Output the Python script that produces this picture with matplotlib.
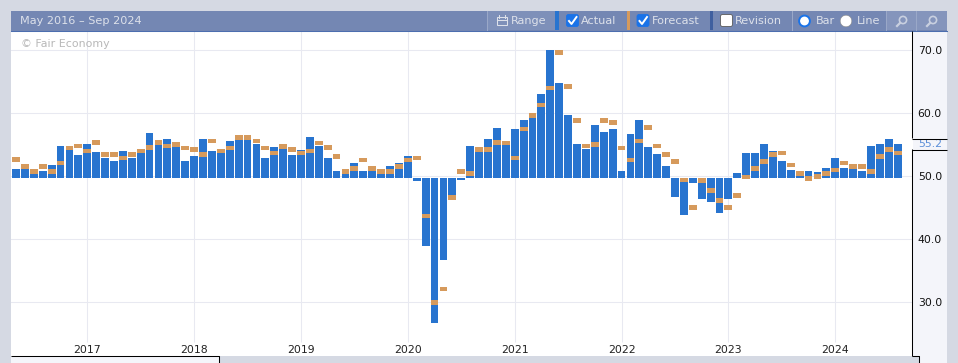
#!/usr/bin/env python

import matplotlib
matplotlib.use('Agg')
import numpy as np
import matplotlib.pyplot as plt
from matplotlib.patches import Rectangle, Circle, FancyBboxPatch

# monthly values, first bar is May 2016
actual = [51.2, 51.3, 50.5, 50.8, 51.8, 54.8, 54.2, 53.4, 55.1, 53.9,
          52.9, 52.4, 54.0, 52.9, 53.7, 56.9, 55.1, 55.9, 54.7, 52.4,
          53.2, 55.9, 54.0, 53.7, 55.6, 55.8, 55.8, 55.1, 52.9, 54.7,
          54.3, 53.4, 54.2, 56.2, 54.8, 52.9, 50.8, 50.4, 52.1, 50.8,
          50.8, 50.4, 51.6, 52.1, 53.2, 49.3, 39.0, 26.7, 36.7, 46.9,
          49.4, 54.8, 53.9, 55.9, 57.7, 55.0, 57.5, 58.9, 59.4, 63.1,
          70.0, 64.8, 59.7, 55.1, 54.3, 58.1, 57.0, 57.5, 50.8, 56.7,
          58.9, 54.7, 53.5, 51.6, 46.7, 43.8, 48.9, 46.4, 45.9, 44.2,
          46.4, 50.5, 53.7, 53.7, 55.1, 54.0, 52.4, 51.0, 50.1, 50.8,
          50.7, 51.3, 52.9, 51.3, 51.3, 50.8, 54.8, 55.1, 55.9, 55.2]
forecast = [52.7, 51.6, 50.8, 51.5, 50.7, 52.1, 54.5, 54.8, 54.0, 55.4,
            53.5, 53.4, 52.9, 53.5, 54.0, 54.6, 55.4, 54.8, 55.1, 54.5,
            54.2, 53.4, 55.6, 54.0, 54.5, 56.1, 56.1, 55.6, 54.5, 53.7,
            54.7, 54.3, 53.7, 54.0, 55.3, 54.6, 53.2, 50.7, 51.3, 52.6,
            51.2, 50.7, 50.8, 51.6, 52.6, 52.9, 43.7, 30.0, 32.1, 46.6,
            50.7, 50.5, 54.2, 54.3, 55.4, 55.3, 52.9, 57.5, 59.7, 61.3,
            64.0, 69.7, 64.3, 58.8, 54.8, 55.0, 58.8, 58.6, 54.5, 52.6,
            55.6, 57.7, 54.8, 53.5, 52.3, 49.4, 45.1, 49.3, 47.7, 46.1,
            45.0, 46.9, 49.9, 51.2, 52.3, 53.5, 53.7, 51.8, 50.4, 49.6,
            50.0, 50.4, 51.0, 52.1, 51.6, 51.6, 50.8, 53.1, 54.3, 53.7]
year_pos = [8, 20, 32, 44, 56, 68, 80, 92]
year_labels = ['2017', '2018', '2019', '2020', '2021', '2022', '2023', '2024']
y_ticks = [30, 40, 50, 60, 70]

BLUE = '#2874CF'
ORANGE = '#D69A5C'
GRID = '#E8E9F1'
PAGE = '#D5D9E3'
PANEL = '#F4F5FA'
HEAD = '#7487B3'
HEAD_TEXT = '#DDE1EA'
BASE = 49.8

plt.rcParams['font.family'] = 'DejaVu Sans'
W, H = 958, 363
fig = plt.figure(figsize=(W / 100, H / 100), dpi=100, facecolor=PAGE)

# page furniture underneath the plot
bg = fig.add_axes([0, 0, 1, 1], zorder=0)
bg.set_xlim(0, W)
bg.set_ylim(H, 0)
bg.axis('off')
bg.add_patch(Rectangle((913, 31), 34, 325, fc=PANEL, ec='none'))
bg.add_patch(Rectangle((920, 356), 27, 7, fc=PANEL, ec='none'))
bg.add_patch(Rectangle((11, 356), 208, 7, fc=PANEL, ec='none'))

# main plot
ax = fig.add_axes([11 / W, 1 - 356 / H, 902 / W, 325 / H], zorder=1)
ax.set_facecolor('white')
ax.set_xlim(-0.5615, 100.73)
ax.set_ylim(21.48, 73.06)
for s in ax.spines.values():
    s.set_visible(False)

x = np.arange(len(actual))
actual = np.array(actual)
forecast = np.array(forecast)
ax.bar(x, actual - BASE, bottom=BASE, width=0.88, color=BLUE, zorder=3)
ax.bar(x, np.full(len(x), 0.76), bottom=forecast - 0.38, width=0.88, color=ORANGE, zorder=4)

ax.set_yticks(y_ticks)
ax.set_yticklabels(['%.1f' % v for v in y_ticks])
ax.yaxis.tick_right()
ax.tick_params(axis='y', length=0, pad=3.4, labelsize=7.8, labelcolor='#111111')
ax.set_xticks(year_pos)
ax.set_xticklabels(year_labels)
ax.tick_params(axis='x', length=0, pad=-8.1, labelsize=7.8, labelcolor='#222222')
ax.grid(axis='y', color=GRID, lw=0.75, zorder=1)
ax.vlines(year_pos, 0.043, 1, transform=ax.get_xaxis_transform(), color=GRID, lw=0.75, zorder=1)
ax.text(21, 44, '\u00a9 Fair Economy', transform=bg.transData, fontsize=7.9,
        color='#B8B8B8', va='center', ha='left', zorder=5)
ax.text(1.0055, actual[-1], '%.1f' % actual[-1], transform=ax.get_yaxis_transform(),
        color='#5B8FD9', fontsize=7.8, va='center', ha='left', zorder=6)

# header bar and outlines on top
top = fig.add_axes([0, 0, 1, 1], zorder=2)
top.set_xlim(0, W)
top.set_ylim(H, 0)
top.axis('off')
top.patch.set_alpha(0)
top.add_patch(Rectangle((11, 11), 936, 20, fc=HEAD, ec='none'))
top.plot([11, 947], [30.5, 30.5], color='#4C6EAF', lw=0.75)
top.add_patch(Rectangle((487, 11), 68, 19, fc='#7E90B9', ec='none'))
top.add_patch(Rectangle((886, 11), 61, 19, fc='#8595BC', ec='none'))
top.text(20, 21, 'May 2016 \u2013 Sep 2024', color=HEAD_TEXT, fontsize=8.1, va='center')

for sx in [487, 792, 886, 916]:
    top.plot([sx, sx], [11, 30], color='#9AA8C8', lw=0.75)
top.add_patch(Rectangle((555.5, 11), 3.5, 19, fc=BLUE, ec='none'))
top.add_patch(Rectangle((627, 11), 3, 19, fc=ORANGE, ec='none'))
top.add_patch(Rectangle((710, 11), 3, 19, fc='#3F5F9F', ec='none'))

for txt, tx in [('Range', 511), ('Actual', 581), ('Forecast', 652), ('Revision', 735),
                ('Bar', 816), ('Line', 857)]:
    top.text(tx, 21, txt, color=HEAD_TEXT, fontsize=8.1, va='center')

# range icon
top.add_patch(Rectangle((497, 17), 10, 8, fc='none', ec=HEAD_TEXT, lw=0.75))
top.plot([497, 507], [20, 20], color=HEAD_TEXT, lw=0.75)
top.plot([499, 499], [15, 18], color=HEAD_TEXT, lw=0.75)
top.plot([505, 505], [15, 18], color=HEAD_TEXT, lw=0.75)

# check boxes
for cx, on in [(566.5, True), (637, True), (720.5, False)]:
    top.add_patch(FancyBboxPatch((cx + 1, 15.5), 10, 10, boxstyle='round,pad=1,rounding_size=2',
                                 fc='#1A73E8' if on else 'white',
                                 ec='#5A5A5A' if not on else '#1A73E8', lw=0.6))
    if on:
        top.plot([cx + 2.5, cx + 5, cx + 10], [21, 24, 17], color='white', lw=1.4)

# radios
top.add_patch(Circle((804.5, 21), 5.4, fc='white', ec='#1A73E8', lw=1.4))
top.add_patch(Circle((846, 21), 5.8, fc='white', ec='#8A8A8A', lw=0.4))

# zoom icons
for ix, plus in [(902, True), (932, False)]:
    top.add_patch(Circle((ix + 1, 20), 3.6, fc='none', ec='#C9D0E0', lw=1.2))
    top.plot([ix - 2, ix - 5], [23, 26], color='#C9D0E0', lw=1.6)

# black outlines of the axis panel
line = dict(color='black', lw=0.75, solid_capstyle='butt')
top.plot([912.5, 912.5], [31, 138], **line)
top.plot([912.5, 912.5], [149, 356], **line)
top.plot([912.5, 947], [138.5, 138.5], **line)
top.plot([912.5, 947], [149.5, 149.5], **line)
top.plot([11, 219.5, 219.5], [356, 356, 363], **line)
top.plot([912.5, 919.5, 919.5], [356, 356, 363], **line)

fig.savefig('out.png', dpi=100, facecolor=PAGE)
